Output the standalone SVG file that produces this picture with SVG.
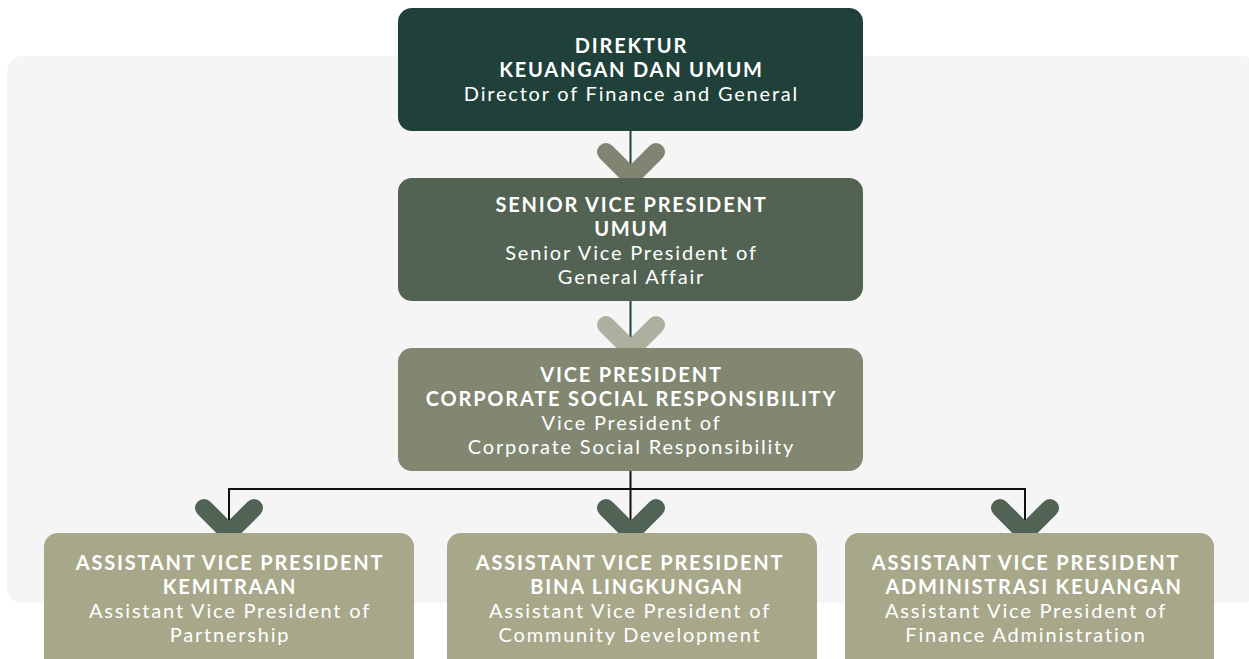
<svg xmlns="http://www.w3.org/2000/svg" width="1249" height="659" viewBox="0 0 1249 659">
<style>
.t{font-family:Lato,"Noto Sans","Liberation Sans",sans-serif;font-size:20px;fill:#ffffff;text-anchor:middle;letter-spacing:1.8px}
.b{font-weight:700}
.chev{fill:none;stroke-width:18;stroke-linecap:round;stroke-linejoin:round}
.ln{fill:none;stroke-width:2}
</style>
<rect x="7" y="56" width="1250" height="547" rx="16" fill="#f5f5f5"/>
<g id="connectors">
<line class="ln" x1="630.5" y1="131" x2="630.5" y2="170" stroke="#20413a"/>
<line class="ln" x1="630.5" y1="301" x2="630.5" y2="340" stroke="#20413a"/>
<polyline class="ln" points="229,520 229,489 1025,489 1025,520" stroke="#111111"/>
<line class="ln" x1="630.5" y1="471" x2="630.5" y2="520" stroke="#111111"/>
<polyline class="chev" points="606,152 631,177 656,152" stroke="#7f8570"/>
<polyline class="chev" points="606,325 631,350 656,325" stroke="#adaf9f"/>
<polyline class="chev" points="204,508 229,533 254,508" stroke="#516354"/>
<polyline class="chev" points="606,508 631,533 656,508" stroke="#516354"/>
<polyline class="chev" points="1000,508 1025,533 1050,508" stroke="#516354"/>
</g>
<g id="n1">
<rect x="398" y="8" width="465" height="123" rx="14" fill="#20413a"/>
<text class="t b" x="631.5" y="53">DIREKTUR</text>
<text class="t b" x="631.5" y="77">KEUANGAN DAN UMUM</text>
<text class="t" x="631.5" y="101">Director of Finance and General</text>
</g>
<g id="n2">
<rect x="398" y="178" width="465" height="123" rx="14" fill="#526354"/>
<text class="t b" x="631.5" y="212">SENIOR VICE PRESIDENT</text>
<text class="t b" x="631.5" y="236">UMUM</text>
<text class="t" x="631.5" y="260">Senior Vice President of</text>
<text class="t" x="631.5" y="284">General Affair</text>
</g>
<g id="n3">
<rect x="398" y="348" width="465" height="123" rx="14" fill="#818771"/>
<text class="t b" x="631.5" y="382">VICE PRESIDENT</text>
<text class="t b" x="631.5" y="406">CORPORATE SOCIAL RESPONSIBILITY</text>
<text class="t" x="631.5" y="430">Vice President of</text>
<text class="t" x="631.5" y="454">Corporate Social Responsibility</text>
</g>
<g id="n4">
<rect x="44" y="533" width="370" height="140" rx="14" fill="#a7a88a"/>
<text class="t b" x="230" y="570">ASSISTANT VICE PRESIDENT</text>
<text class="t b" x="230" y="594">KEMITRAAN</text>
<text class="t" x="230" y="618">Assistant Vice President of</text>
<text class="t" x="230" y="642">Partnership</text>
</g>
<g id="n5">
<rect x="447" y="533" width="370" height="140" rx="14" fill="#a7a88a"/>
<text class="t b" x="630" y="570">ASSISTANT VICE PRESIDENT</text>
<text class="t b" x="637" y="594">BINA LINGKUNGAN</text>
<text class="t" x="630" y="618">Assistant Vice President of</text>
<text class="t" x="630" y="642">Community Development</text>
</g>
<g id="n6">
<rect x="845" y="533" width="369" height="140" rx="14" fill="#a7a88a"/>
<text class="t b" x="1026" y="570">ASSISTANT VICE PRESIDENT</text>
<text class="t b" x="1034" y="594">ADMINISTRASI KEUANGAN</text>
<text class="t" x="1026" y="618">Assistant Vice President of</text>
<text class="t" x="1026" y="642">Finance Administration</text>
</g>
</svg>
